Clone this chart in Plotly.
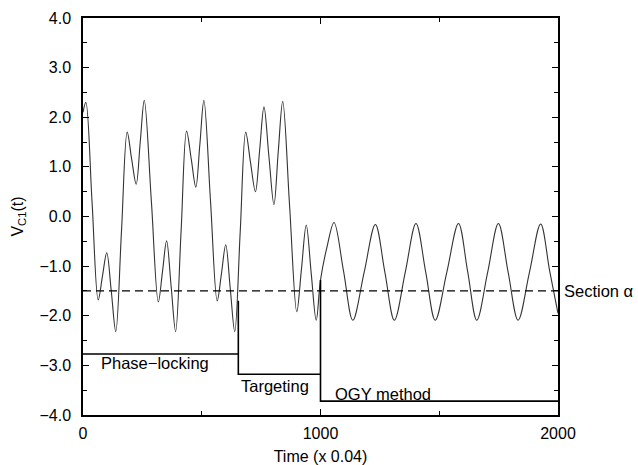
import plotly.graph_objects as go

# Waveform (time in units of 0.04, value V_C1)
time_pts = [0, 12, 38, 64, 82, 100, 119, 138, 162, 186, 205, 224, 241, 258, 288, 317,
            335, 352, 371, 390, 413, 436, 456, 475, 492, 509, 537, 565, 583, 601, 620,
            639, 662, 685, 705, 726, 744, 762, 783, 804, 822, 841, 870, 900, 920, 940,
            961, 982, 1000, 1028, 1057, 1097, 1136, 1184, 1231, 1271, 1311, 1357, 1402,
            1443, 1483, 1532, 1581, 1620, 1658, 1704, 1749, 1790, 1832, 1880, 1927,
            1965, 2000]
vc1_vals = [2.10, 2.30, 0.30, -1.68, -1.20, -0.73, -1.50, -2.32, -0.30, 1.70, 1.15, 0.65,
            1.50, 2.34, 0.30, -1.72, -1.10, -0.49, -1.40, -2.32, -0.30, 1.72, 1.15, 0.59,
            1.45, 2.34, 0.30, -1.70, -1.15, -0.57, -1.45, -2.32, -0.30, 1.70, 1.10, 0.50,
            1.35, 2.21, 1.20, 0.24, 1.30, 2.32, 0.20, -1.92, -1.05, -0.17, -1.15, -2.09,
            -1.28, -0.60, -0.12, -1.10, -2.09, -1.12, -0.16, -1.12, -2.09, -1.12, -0.14,
            -1.12, -2.09, -1.12, -0.14, -1.12, -2.09, -1.12, -0.14, -1.12, -2.09, -1.12,
            -0.15, -1.10, -1.95]

# Section alpha level
section_level = -1.5
section_x = [0, 2000]

# Control-stage indicator path
stage_x = [0, 654, 654, 654, 1000, 1000, 1000, 2000]
stage_y = [-2.77, -2.77, -1.70, -3.18, -3.18, -1.28, -3.72, -3.72]

# Stage labels
stage_labels = ["Phase\u2212locking", "Targeting", "OGY method"]
stage_label_x = [66, 658, 1054]
stage_label_y = [-2.96, -3.41, -3.57]

y_tickvals = [4, 3, 2, 1, 0, -1, -2, -3, -4]
x_tickvals = [0, 1000, 2000]

FONT = "Liberation Sans, Arial, sans-serif"

fig = go.Figure()
fig.add_trace(go.Scatter(x=time_pts, y=vc1_vals, mode="lines",
                         line=dict(color="#333333", width=1.1, shape="spline", smoothing=1.0),
                         showlegend=False, hoverinfo="skip"))
fig.add_trace(go.Scatter(x=section_x, y=[section_level] * len(section_x), mode="lines",
                         line=dict(color="black", width=1.2, dash="8px,5px"),
                         showlegend=False, hoverinfo="skip"))
fig.add_trace(go.Scatter(x=stage_x, y=stage_y, mode="lines",
                         line=dict(color="black", width=1.6),
                         showlegend=False, hoverinfo="skip"))

for lab, lx, ly in zip(stage_labels, stage_label_x, stage_label_y):
    fig.add_annotation(x=lx, y=ly, text=lab, showarrow=False, xanchor="left",
                       yanchor="middle", font=dict(size=16.5, color="black", family=FONT))

fig.add_annotation(x=1.008, xref="paper", y=section_level, yref="y", text="Section \u03b1",
                   showarrow=False, xanchor="left", yanchor="middle",
                   font=dict(size=16.5, color="black", family=FONT))

fig.update_xaxes(range=[0, 2000], tickvals=x_tickvals, ticktext=[str(v) for v in x_tickvals],
                 ticks="inside", ticklen=6, tickwidth=1.2, tickcolor="black",
                 minor=dict(dtick=500, ticks="inside", ticklen=4, tickcolor="black", showgrid=False),
                 showline=True, linecolor="black", linewidth=1.5, mirror="ticks",
                 showgrid=False, zeroline=False, automargin=False, ticklabelstandoff=3,
                 title=dict(text="Time (x 0.04)", font=dict(size=16, family=FONT, color="black"),
                            standoff=14),
                 tickfont=dict(size=16, family=FONT, color="black"))
fig.update_yaxes(range=[-4, 4], tickvals=y_tickvals, tickformat=".1f",
                 ticks="inside", ticklen=6, tickwidth=1.2, tickcolor="black",
                 minor=dict(dtick=0.5, ticks="inside", ticklen=4, tickcolor="black", showgrid=False),
                 showline=True, linecolor="black", linewidth=1.5, mirror="ticks",
                 showgrid=False, zeroline=False, automargin=False, ticklabelstandoff=7,
                 title=dict(text="V<sub>C1</sub>(t)", font=dict(size=16, family=FONT, color="black"),
                            standoff=12),
                 tickfont=dict(size=16, family=FONT, color="black"))

fig.update_layout(width=638, height=465, plot_bgcolor="white", paper_bgcolor="white",
                  margin=dict(l=83, r=80, t=18, b=50), font=dict(family=FONT, color="black"))

fig.write_html("out.html", config={"displayModeBar": False},
               post_script="document.body.style.margin='0';"
                           "document.documentElement.style.overflow='hidden';"
                           "document.body.style.overflow='hidden';")
